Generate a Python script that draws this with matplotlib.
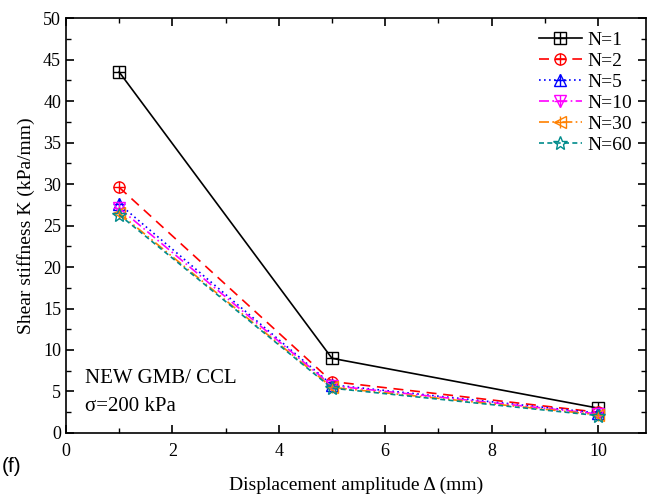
import matplotlib
matplotlib.use("Agg")
import matplotlib.pyplot as plt
from matplotlib.ticker import MultipleLocator
from matplotlib.legend_handler import HandlerTuple

x = [1, 5, 10]
labels = ["N=1", "N=2", "N=5", "N=10", "N=30", "N=60"]
k_n1 = [43.5, 9.0, 3.0]
k_n2 = [29.6, 6.2, 2.5]
k_n5 = [27.6, 5.8, 2.4]
k_n10 = [27.1, 5.7, 2.3]
k_n30 = [26.5, 5.5, 2.2]
k_n60 = [26.3, 5.4, 2.1]
series = [k_n1, k_n2, k_n5, k_n10, k_n30, k_n60]

colors = ["black", "red", "blue", "magenta", "#ff8000", "#008b8b"]
styles = ["-", (0, (6, 4)), (0, (1, 2)), (0, (6, 2, 1, 2)), (0, (6, 2, 1, 2, 1, 2)), (0, (3, 2))]
markers = ["s", "o", "^", "v", "<", "*"]
cross = [True, True, True, True, True, False]

plt.rcParams['font.family'] = ['Liberation Serif', 'DejaVu Serif']

fig = plt.figure(figsize=(6.53, 4.94), dpi=100)
ax = fig.add_axes([0.101, 0.1235, 0.888, 0.840])

handles = []
for y, c, ls, m, cr, lab in zip(series, colors, styles, markers, cross, labels):
    ms = 8 if m != "*" else 10
    l, = ax.plot(x, y, color=c, linestyle=ls, linewidth=1.2, marker=m,
                 markersize=ms, markerfacecolor='none', markeredgecolor=c,
                 markeredgewidth=1.0, label=lab)
    if cr:
        p, = ax.plot(x, y, linestyle='none', marker='+', markersize=ms,
                     markeredgecolor=c, markeredgewidth=1.0)
        handles.append((l, p))
    else:
        handles.append(l)

ax.set_xlim(0, 10.9)
ax.set_ylim(0, 50)
ax.xaxis.set_major_locator(MultipleLocator(2))
ax.xaxis.set_minor_locator(MultipleLocator(1))
ax.yaxis.set_major_locator(MultipleLocator(5))
ax.yaxis.set_minor_locator(MultipleLocator(2.5))
ax.tick_params(which='both', direction='in', top=True, right=True, labelsize=13)
ax.tick_params(axis='x', which='major', pad=7)
ax.tick_params(which='major', length=6, width=1.2)
ax.tick_params(which='minor', length=3.5, width=1.0)
for s in ax.spines.values():
    s.set_linewidth(1.2)

ax.set_xlabel("Displacement amplitude Δ (mm)", fontsize=14, labelpad=12)
ax.set_ylabel("Shear stiffness K (kPa/mm)", fontsize=14, labelpad=6)

ax.text(0.36, 6.0, "NEW GMB/ CCL", fontsize=15)
ax.text(0.36, 2.7, "σ=200 kPa", fontsize=15)
fig.text(0.003, 0.045, "(f)", fontsize=15, family=['Liberation Sans', 'DejaVu Sans'])

ax.legend(handles, labels, loc='upper right', frameon=False, fontsize=14,
          handlelength=2.2, labelspacing=0.17, handletextpad=0.3,
          borderaxespad=0.3, handler_map={tuple: HandlerTuple(ndivide=1, pad=0)})

fig.savefig("out.png", dpi=100)
